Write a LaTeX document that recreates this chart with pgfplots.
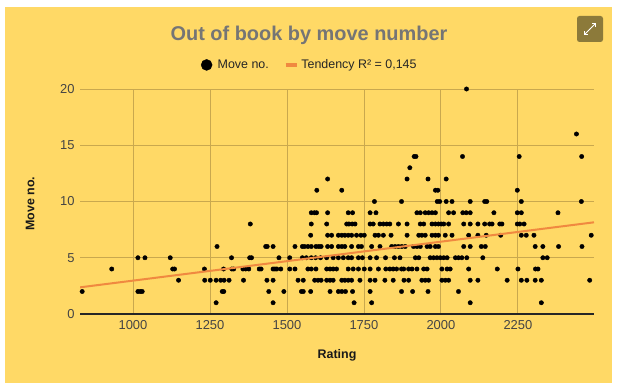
\documentclass[border=0pt]{standalone}
\usepackage{fontspec}
\setmainfont{Liberation Sans}
\usepackage{pgfplots}
\pgfplotsset{compat=1.18}
\usetikzlibrary{arrows.meta}
\definecolor{bgyellow}{RGB}{255,217,102}
\definecolor{gridc}{RGB}{201,168,78}
\definecolor{trend}{RGB}{240,137,64}
\definecolor{titlegray}{RGB}{117,117,117}
\definecolor{btn}{RGB}{140,122,58}
\definecolor{ticktext}{RGB}{68,68,68}
\begin{document}
\begin{tikzpicture}
\useasboundingbox (0bp,0bp) rectangle (618bp,390bp);
\fill[white] (0bp,0bp) rectangle (618bp,390bp);
\fill[bgyellow] (5bp,7bp) rectangle (612bp,383bp);
\begin{axis}[
  at={(80bp,76bp)}, anchor=south west, scale only axis,
  width=514bp, height=225bp,
  xmin=828, xmax=2497, ymin=0, ymax=20,
  xtick={1000,1250,1500,1750,2000,2250},
  ytick={0,5,10,15,20},
  major tick length=0pt,
  grid=major,
  grid style={gridc, line width=0.9bp},
  axis x line*=bottom, axis y line*=left,
  x axis line style={draw=black!85, line width=1.1bp, -},
  y axis line style={draw=none},
  /pgf/number format/assume math mode=true,
  /pgf/number format/1000 sep={},
  tick label style={font=\fontsize{13}{15}\selectfont, text=ticktext},
  xticklabel style={yshift=-3bp},
  yticklabel style={xshift=-2bp},
  xlabel={Rating}, ylabel={Move no.},
  label style={font=\bfseries\fontsize{12.5}{15}\selectfont, text=black!90},
  xlabel style={at={(axis description cs:0.5,-0.182)}, anchor=center},
  ylabel style={at={(axis description cs:-0.097,0.49)}, anchor=center, rotate=0},
  clip mode=individual,
  legend columns=2,
  legend style={at={(0.448,1.107)}, anchor=center, draw=none, fill=none,
    font=\fontsize{12.5}{15}\selectfont, text=black!85,
    /tikz/every even column/.append style={column sep=12bp},
    nodes={inner xsep=3bp}},
]
\addplot[only marks, mark=*, mark size=2.2bp, black,
  legend image code/.code={\fill[black] (0bp,0bp) circle (5.5bp); \node[inner sep=0pt, minimum size=0pt, draw=none, fill=none] at (8bp,0bp) {};}]
coordinates {
(1270,1) (1455,1) (1718,1) (1775,1) (2095,1) (2326,1)
(835,2) (1016,2) (1024,2) (1030,2) (1290,2) (1295,2) (1441,2) (1490,2) (1547,2) (1553,2) (1577,2) (1640,2) (1667,2) (1678,2) (1690,2) (1713,2) (1770,2) (1872,2) (1908,2) (1958,2) (2057,2)
(1148,3) (1233,3) (1251,3) (1270,3) (1285,3) (1296,3) (1312,3) (1359,3) (1435,3) (1455,3) (1536,3) (1553,3) (1590,3) (1601,3) (1611,3) (1629,3) (1640,3) (1650,3) (1678,3) (1688,3) (1699,3) (1710,3) (1737,3) (1770,3) (1786,3) (1818,3) (1845,3) (1880,3) (1895,3) (1938,3) (1949,3) (1960,3) (2003,3) (2014,3) (2025,3) (2095,3) (2120,3) (2215,3) (2261,3) (2279,3) (2306,3) (2326,3) (2483,3)
(931,4) (1129,4) (1135,4) (1232,4) (1294,4) (1321,4) (1327,4) (1357,4) (1366,4) (1376,4) (1410,4) (1416,4) (1455,4) (1461,4) (1467,4) (1480,4) (1509,4) (1526,4) (1568,4) (1579,4) (1594,4) (1629,4) (1640,4) (1650,4) (1661,4) (1699,4) (1715,4) (1732,4) (1751,4) (1770,4) (1797,4) (1821,4) (1834,4) (1845,4) (1856,4) (1872,4) (1879,4) (1895,4) (1906,4) (1922,4) (1944,4) (1955,4) (2003,4) (2020,4) (2030,4) (2090,4) (2183,4) (2250,4) (2307,4) (2315,4)
(1016,5) (1039,5) (1121,5) (1320,5) (1379,5) (1385,5) (1474,5) (1509,5) (1550,5) (1563,5) (1579,5) (1593,5) (1609,5) (1629,5) (1650,5) (1667,5) (1683,5) (1699,5) (1710,5) (1732,5) (1745,5) (1770,5) (1791,5) (1820,5) (1849,5) (1867,5) (1917,5) (1928,5) (1965,5) (1976,5) (1987,5) (1998,5) (2009,5) (2020,5) (2047,5) (2057,5) (2068,5) (2084,5) (2136,5) (2331,5) (2345,5)
(1273,6) (1431,6) (1436,6) (1455,6) (1526,6) (1550,6) (1557,6) (1568,6) (1579,6) (1594,6) (1603,6) (1611,6) (1632,6) (1645,6) (1667,6) (1678,6) (1688,6) (1710,6) (1732,6) (1742,6) (1775,6) (1802,6) (1840,6) (1851,6) (1862,6) (1873,6) (1884,6) (1911,6) (1922,6) (1933,6) (1955,6) (1965,6) (1982,6) (1992,6) (2074,6) (2095,6) (2131,6) (2144,6) (2306,6) (2331,6) (2382,6) (2458,6)
(1577,7) (1632,7) (1645,7) (1667,7) (1678,7) (1688,7) (1699,7) (1710,7) (1726,7) (1740,7) (1751,7) (1786,7) (1797,7) (1813,7) (1838,7) (1890,7) (1928,7) (1938,7) (1949,7) (1971,7) (1982,7) (1992,7) (2014,7) (2036,7) (2090,7) (2120,7) (2147,7) (2194,7) (2261,7) (2277,7) (2302,7) (2488,7)
(1381,8) (1579,8) (1629,8) (1694,8) (1701,8) (1712,8) (1721,8) (1770,8) (1780,8) (1802,8) (1813,8) (1824,8) (1834,8) (1862,8) (1890,8) (1933,8) (1944,8) (1971,8) (1982,8) (1992,8) (2001,8) (2009,8) (2025,8) (2074,8) (2095,8) (2120,8) (2142,8) (2158,8) (2166,8) (2191,8) (2198,8) (2248,8) (2256,8) (2270,8)
(1579,9) (1589,9) (1596,9) (1632,9) (1699,9) (1713,9) (1770,9) (1789,9) (1922,9) (1933,9) (1949,9) (1960,9) (1971,9) (1982,9) (2025,9) (2041,9) (2071,9) (2082,9) (2095,9) (2172,9) (2248,9) (2261,9) (2380,9)
(1784,10) (1872,10) (1988,10) (1996,10) (2017,10) (2036,10) (2095,10) (2142,10) (2149,10) (2261,10) (2456,10)
(1597,11) (1678,11) (1982,11) (1990,11) (2248,11)
(1632,12) (1890,12) (1958,12) (2017,12)
(1899,13)
(1913,14) (1919,14) (2070,14) (2254,14) (2457,14)
(2440,16)
(2083,20)
};
\addlegendentry{Move no.}
\addplot[trend, line width=2bp, no marks,
  legend image code/.code={\draw[trend, line width=3.5bp] (0bp,0bp) -- (11bp,0bp);}]
coordinates {(828,2.37) (2497,8.15)};
\addlegendentry{Tendency R² = 0,145}
\end{axis}
\node[font=\bfseries\fontsize{20}{24}\selectfont, text=titlegray] at (309bp,355bp) {Out of book by move number};
\fill[btn, rounded corners=2.5bp] (577bp,348bp) rectangle (603bp,374bp);
\draw[white, line width=1bp, -{Straight Barb[length=2.5bp]}] (590bp,361bp) -- (596bp,367bp);
\draw[white, line width=1bp, -{Straight Barb[length=2.5bp]}] (590bp,361bp) -- (584bp,355bp);
\end{tikzpicture}
\end{document}
